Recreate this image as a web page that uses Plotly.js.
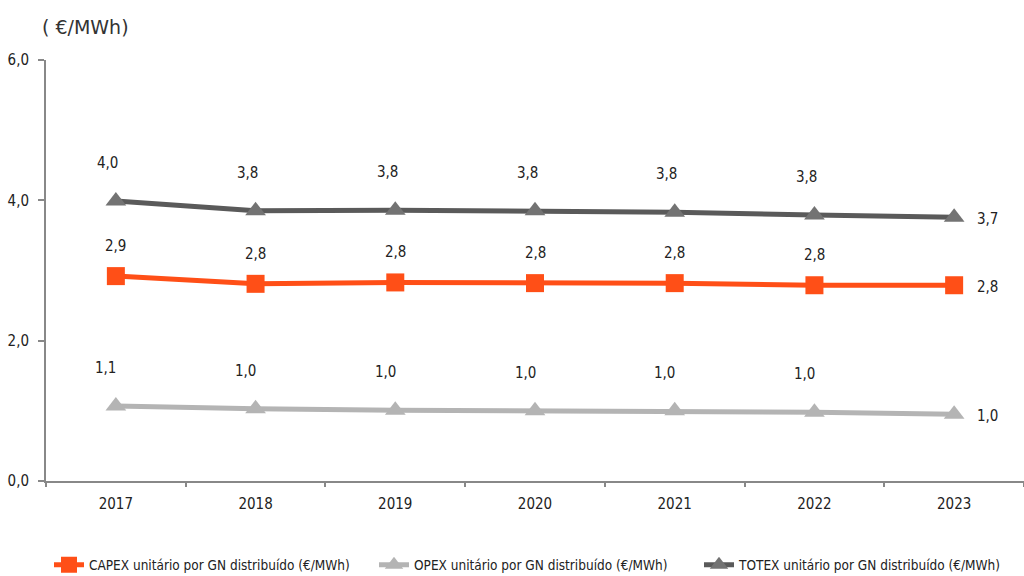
<!DOCTYPE html>
<html>
<head>
<meta charset="utf-8">
<script src="https://cdn.plot.ly/plotly-3.0.1.min.js"></script>
<style>body{margin:0;background:#fff}#chart{width:1024px;height:576px}</style>
</head>
<body>
<div id="chart"></div>
<script>
const years = ['2017','2018','2019','2020','2021','2022','2023'];
const capex = [2.92, 2.81, 2.83, 2.82, 2.82, 2.79, 2.79];
const opex  = [1.07, 1.03, 1.01, 1.00, 1.00, 0.98, 0.95];
const totex = [3.99, 3.85, 3.86, 3.85, 3.83, 3.79, 3.76];
const capexLabels = ['2,9','2,8','2,8','2,8','2,8','2,8','2,8'];
const opexLabels  = ['1,1','1,0','1,0','1,0','1,0','1,0','1,0'];
const totexLabels = ['4,0','3,8','3,8','3,8','3,8','3,8','3,7'];
const names = [
  'CAPEX unitário por GN distribuído (€/MWh)',
  'OPEX unitário por GN distribuído (€/MWh)',
  'TOTEX unitário por GN distribuído (€/MWh)'
];

const FONT = '"DejaVu Sans Condensed", "Liberation Sans Narrow", "Arial Narrow", sans-serif';

const traces = [
  {x: years, y: capex, name: names[0], mode: 'lines+markers', type: 'scatter',
   line: {color: '#FF4F17', width: 5}, marker: {symbol: 'square', size: 18, color: '#FF4F17'}},
  {x: years, y: opex, name: names[1], mode: 'lines+markers', type: 'scatter',
   line: {color: '#B4B4B4', width: 5}, marker: {symbol: 'triangle-up', size: 18, color: '#B4B4B4'}},
  {x: years, y: totex, name: names[2], mode: 'lines+markers', type: 'scatter',
   line: {color: '#5A5A5A', width: 5}, marker: {symbol: 'triangle-up', size: 18, color: '#737373'}}
];

const annotations = [];
function addLabels(vals, labels, yshift, xshift) {
  vals.forEach((v, i) => {
    const last = i === vals.length - 1;
    annotations.push({
      x: i, y: v, text: labels[i], showarrow: false,
      xshift: last ? 33 : xshift, yshift: last ? -2 : yshift,
      font: {family: FONT, size: 15, color: '#222'}
    });
  });
}
addLabels(capex, capexLabels, 30, 0);
addLabels(opex, opexLabels, 38, -10);
addLabels(totex, totexLabels, 38, -8);

annotations.push({
  xref: 'paper', yref: 'paper', x: -0.006, y: 1.0, yshift: 33, xanchor: 'left', yanchor: 'middle',
  text: '( €/MWh)', showarrow: false,
  font: {family: '"DejaVu Sans", sans-serif', size: 19, color: '#333'}
});

const layout = {
  width: 1024, height: 576,
  margin: {l: 46, r: 0, t: 60, b: 95},
  paper_bgcolor: '#fff', plot_bgcolor: '#fff',
  separators: ',.',
  showlegend: true,
  legend: {orientation: 'h', x: 0.022, xanchor: 'left', yref: 'container', y: 0.019, yanchor: 'middle',
           entrywidth: 280, entrywidthmode: 'pixels',
           font: {family: FONT, size: 13.5, color: '#222'}, tracegroupgap: 0},
  xaxis: {type: 'category', range: [-0.5, 6.5], showgrid: false, zeroline: false,
          showline: true, linecolor: '#888', linewidth: 2,
          ticks: 'outside', tickson: 'boundaries', ticklen: 4, tickcolor: '#888', tickwidth: 2,
          ticklabelstandoff: 8,
          tickfont: {family: FONT, size: 15, color: '#222'}},
  yaxis: {range: [0, 6], tickvals: [0, 2, 4, 6], tickformat: '.1f', showgrid: false, zeroline: false,
          showline: true, linecolor: '#888', linewidth: 2,
          ticks: 'outside', ticklen: 6, tickcolor: '#888', tickwidth: 2,
          ticklabelstandoff: 6,
          tickfont: {family: FONT, size: 15, color: '#222'}},
  annotations: annotations
};

Plotly.newPlot('chart', traces, layout, {displayModeBar: false, staticPlot: true});
</script>
</body>
</html>
